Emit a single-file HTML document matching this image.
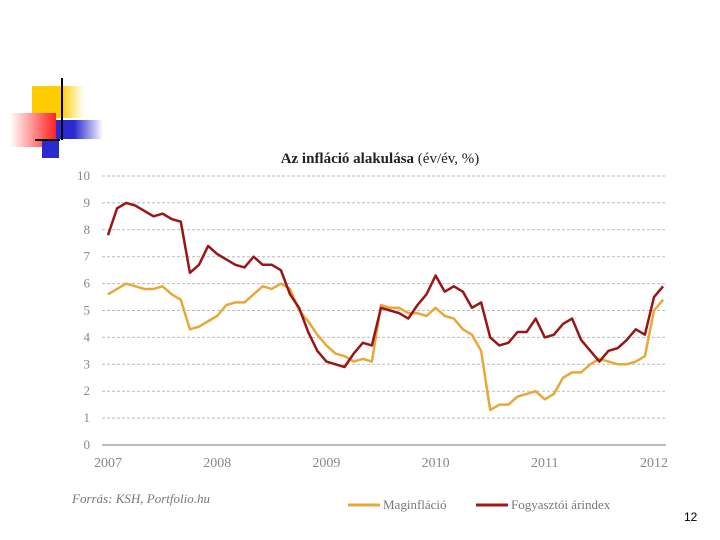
<!DOCTYPE html>
<html><head><meta charset="utf-8"><style>
body{margin:0;width:720px;height:540px;background:#fff;overflow:hidden;position:relative;font-family:"Liberation Serif",serif}
.abs{position:absolute}
</style></head><body>
<div class="abs" style="left:32px;top:86px;width:52px;height:32px;background:linear-gradient(90deg,#ffcc00 55%,#fff)"></div>
<div class="abs" style="left:55px;top:120px;width:48px;height:19px;background:linear-gradient(90deg,#2a2ad0 40%,#fff)"></div>
<div class="abs" style="left:10px;top:113px;width:46px;height:34px;background:linear-gradient(270deg,#ff2020,#fff)"></div>
<div class="abs" style="left:42px;top:140px;width:17px;height:18px;background:#2a2ad0"></div>
<div class="abs" style="left:61px;top:78px;width:2px;height:62px;background:#000"></div>
<div class="abs" style="left:35px;top:139px;width:25px;height:2px;background:#000"></div>
<svg class="abs" style="left:0;top:0" width="720" height="540">
<text x="380" y="163" text-anchor="middle" font-size="15" fill="#222"><tspan font-weight="bold">Az infláció alakulása</tspan> (év/év, %)</text>
<g id="grid"></g><g id="lines"></g>
<text x="72" y="503" font-size="13" font-style="italic" fill="#777">Forrás: KSH, Portfolio.hu</text>
<line x1="348" y1="505" x2="380" y2="505" stroke="#e8a838" stroke-width="3"/>
<text x="383" y="509" font-size="13" fill="#777">Maginfláció</text>
<line x1="476" y1="505" x2="508" y2="505" stroke="#a01818" stroke-width="3"/>
<text x="511" y="509" font-size="13" fill="#777">Fogyasztói árindex</text>
<text x="684" y="521" font-size="12" fill="#000" font-family="Liberation Sans,sans-serif">12</text>
</svg>
<script>
const yTicks=[0,1,2,3,4,5,6,7,8,9,10];
const years=["2007","2008","2009","2010","2011","2012"];
const cpi=[7.8,8.8,9.0,8.9,8.7,8.5,8.6,8.4,8.3,6.4,6.7,7.4,7.1,6.9,6.7,6.6,7.0,6.7,6.7,6.5,5.6,5.1,4.2,3.5,3.1,3.0,2.9,3.4,3.8,3.7,5.1,5.0,4.9,4.7,5.2,5.6,6.3,5.7,5.9,5.7,5.1,5.3,4.0,3.7,3.8,4.2,4.2,4.7,4.0,4.1,4.5,4.7,3.9,3.5,3.1,3.5,3.6,3.9,4.3,4.1,5.5,5.9];
const core=[5.6,5.8,6.0,5.9,5.8,5.8,5.9,5.6,5.4,4.3,4.4,4.6,4.8,5.2,5.3,5.3,5.6,5.9,5.8,6.0,5.8,5.0,4.6,4.1,3.7,3.4,3.3,3.1,3.2,3.1,5.2,5.1,5.1,4.9,4.9,4.8,5.1,4.8,4.7,4.3,4.1,3.5,1.3,1.5,1.5,1.8,1.9,2.0,1.7,1.9,2.5,2.7,2.7,3.0,3.2,3.1,3.0,3.0,3.1,3.3,5.0,5.4];
const NS="http://www.w3.org/2000/svg";
const X=i=>108+i*9.1, Y=v=>445-v*26.9;
const grid=document.getElementById('grid'), lines=document.getElementById('lines');
function mk(t,a){const e=document.createElementNS(NS,t);for(const k in a)e.setAttribute(k,a[k]);return e;}
yTicks.forEach(v=>{
 const l=mk('line',{x1:102,x2:666,y1:Y(v),y2:Y(v),stroke:v?'#bbb':'#777','stroke-dasharray':v?'3,2':'none','stroke-width':1});
 
 
 grid.appendChild(l);
 const t=mk('text',{x:90,y:Y(v)+4,'text-anchor':'end','font-size':13,fill:'#888'});t.textContent=v;
 
 
 grid.appendChild(t);
});
years.forEach((y,i)=>{
 const t=mk('text',{x:X(i*12),y:467,'text-anchor':'middle','font-size':14,fill:'#888'});t.textContent=y;
 
 
 grid.appendChild(t);
});
function series(d,c,n){const p=mk('polyline',{points:d.map((v,i)=>X(i)+','+Y(v)).join(' '),fill:'none',stroke:c,'stroke-width':2.5,'stroke-linejoin':'round'});
 
 
 lines.appendChild(p);}
series(core,'#e8a838','core-inflation-line');
series(cpi,'#9a1515','cpi-line');
</script>
</body></html>
